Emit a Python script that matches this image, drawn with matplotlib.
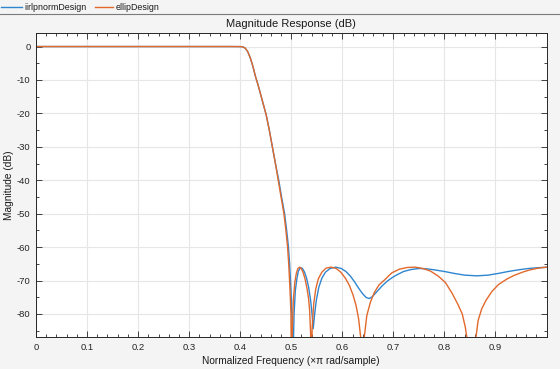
import matplotlib
matplotlib.use('Agg')
import matplotlib.pyplot as plt
from matplotlib.ticker import MultipleLocator
from matplotlib.lines import Line2D

plt.rcParams['font.family'] = ['Liberation Sans', 'DejaVu Sans']
plt.rcParams['axes.unicode_minus'] = False

# normalized frequency (x pi rad/sample) and magnitude (dB)
iirlp_f = [0, 0.38, 0.40, 0.405, 0.41, 0.415, 0.42, 0.425, 0.43, 0.435, 0.443, 0.451,
           0.457, 0.463, 0.469, 0.4755, 0.481, 0.487, 0.491, 0.4945, 0.4968, 0.4985,
           0.500, 0.5012, 0.5022, 0.503, 0.504, 0.5055, 0.508, 0.511, 0.514, 0.518,
           0.522, 0.526, 0.530, 0.534, 0.538, 0.541, 0.543, 0.5455, 0.549, 0.554,
           0.560, 0.567, 0.576, 0.587, 0.598, 0.607, 0.616, 0.624, 0.632, 0.640,
           0.647, 0.653, 0.659, 0.668, 0.678, 0.688, 0.698, 0.707, 0.72, 0.735,
           0.75, 0.765, 0.78, 0.80, 0.82, 0.84, 0.864, 0.885, 0.905, 0.925, 0.945,
           0.965, 0.985, 1.0]
iirlp_db = [0, 0, -0.02, -0.1, -0.5, -1.6, -3.5, -6, -9, -11.5, -16, -20.5,
            -25, -30, -35, -40, -45, -50, -55, -60, -65, -70,
            -75, -80, -88, -150, -90, -80, -73, -69.5, -67.2, -66.1,
            -66.4, -67.5, -69.3, -72, -76, -80.5, -84.4, -80.5, -76, -72,
            -69.3, -67.5, -66.4, -66.0, -66.4, -67.3, -68.7, -70.4, -72.3, -74.0,
            -75.1, -75.4, -74.8, -73.3, -71.6, -70.2, -69.1, -68.3, -67.3, -66.7,
            -66.4, -66.5, -66.8, -67.3, -67.9, -68.4, -68.6, -68.4, -67.9, -67.3, -66.8,
            -66.4, -66.15, -66.05]

ellip_f = [0, 0.38, 0.40, 0.405, 0.41, 0.415, 0.42, 0.425, 0.43, 0.435, 0.443, 0.451,
           0.457, 0.463, 0.469, 0.4745, 0.480, 0.4856, 0.4895, 0.4928, 0.4950, 0.4967,
           0.4982, 0.4994, 0.4999, 0.5002, 0.5005, 0.502, 0.504, 0.507, 0.510, 0.513,
           0.516, 0.519, 0.523, 0.527, 0.531, 0.534, 0.536, 0.538, 0.5388, 0.5395,
           0.541, 0.544, 0.548, 0.553, 0.560, 0.568, 0.578, 0.588, 0.597, 0.606,
           0.614, 0.621, 0.627, 0.632, 0.636, 0.6395, 0.643, 0.648, 0.655, 0.663,
           0.672, 0.683, 0.697, 0.712, 0.727, 0.743, 0.758, 0.773, 0.788, 0.802,
           0.815, 0.826, 0.835, 0.841, 0.845, 0.853, 0.861, 0.866, 0.873, 0.882,
           0.893, 0.906, 0.922, 0.936, 0.955, 0.968, 0.984, 1.0]
ellip_db = [0, 0, -0.02, -0.1, -0.5, -1.6, -3.5, -6, -9, -11.5, -16, -20.5,
            -25, -30, -35, -40, -45, -50, -55, -60, -65, -70,
            -75, -80, -90, -150, -100, -85, -76, -70.5, -67.8, -66.4,
            -66.0, -66.3, -67.5, -69.5, -72.5, -75.5, -79, -86, -150, -95,
            -84, -77, -72.5, -69.5, -67.5, -66.3, -66.0, -66.4, -67.5, -69.3,
            -71.5, -74.3, -77.5, -81.5, -87, -150, -87, -80.5, -76.5, -73.5,
            -71.3, -69.8, -67.7, -66.6, -66.1, -66.0, -66.4, -67.2, -68.7, -70.6,
            -73.8, -77, -80, -84, -88, -150, -88, -82, -78.5, -75.8,
            -73.3, -71.2, -69.6, -68.5, -67.4, -66.8, -66.3, -66.0]

blue = '#2f86d0'
orange = '#e2692c'

fig = plt.figure(figsize=(5.6, 3.69), dpi=100, facecolor='#f4f4f4')
ax = fig.add_axes([36 / 560, 1 - 337 / 369, 510.5 / 560, 304.5 / 369])

ax.plot(iirlp_f, iirlp_db, color=blue, lw=1.0)
ax.plot(ellip_f, ellip_db, color=orange, lw=1.0)

ax.set_xlim(0, 1.0)
ax.set_ylim(-86.9, 4.2)
ax.set_xticks([0, 0.1, 0.2, 0.3, 0.4, 0.5, 0.6, 0.7, 0.8, 0.9])
ax.set_xticklabels(['0', '0.1', '0.2', '0.3', '0.4', '0.5', '0.6', '0.7', '0.8', '0.9'])
ax.set_yticks([0, -10, -20, -30, -40, -50, -60, -70, -80])
ax.xaxis.set_minor_locator(MultipleLocator(0.02))
ax.yaxis.set_minor_locator(MultipleLocator(5))
ax.tick_params(which='both', direction='in', top=True, right=True,
               labelsize=6.8, colors='#262626', width=0.6)
ax.tick_params(which='major', length=4, pad=4)
ax.tick_params(which='minor', length=2)
ax.grid(True, which='major', color='#e6e6e6', lw=0.8)
ax.set_axisbelow(True)
for s in ax.spines.values():
    s.set_color('#262626')
    s.set_linewidth(0.7)

ax.set_title('Magnitude Response (dB)', fontsize=8, color='#1a1a1a', pad=4)
ax.set_xlabel('Normalized Frequency (\u00d7\u03c0 rad/sample)', fontsize=7.3, color='#1a1a1a', labelpad=3)
ax.set_ylabel('Magnitude (dB)', fontsize=7.3, color='#1a1a1a')
ax.yaxis.set_label_coords(-22 / 510.5, 0.5)

# legend strip above the axes
fig.add_artist(Line2D([1 / 560, 22 / 560], [1 - 7 / 369, 1 - 7 / 369], color=blue, lw=1.0))
fig.text(24.5 / 560, 1 - 7 / 369, 'iirlpnormDesign', fontsize=6.4, va='center', color='#1a1a1a')
fig.add_artist(Line2D([95 / 560, 113 / 560], [1 - 7 / 369, 1 - 7 / 369], color=orange, lw=1.0))
fig.text(116 / 560, 1 - 7 / 369, 'ellipDesign', fontsize=6.4, va='center', color='#1a1a1a')
fig.add_artist(Line2D([0, 1], [1 - 14 / 369, 1 - 14 / 369], color='#7a7a7a', lw=0.8))

fig.savefig('out.png', dpi=100, facecolor=fig.get_facecolor())
